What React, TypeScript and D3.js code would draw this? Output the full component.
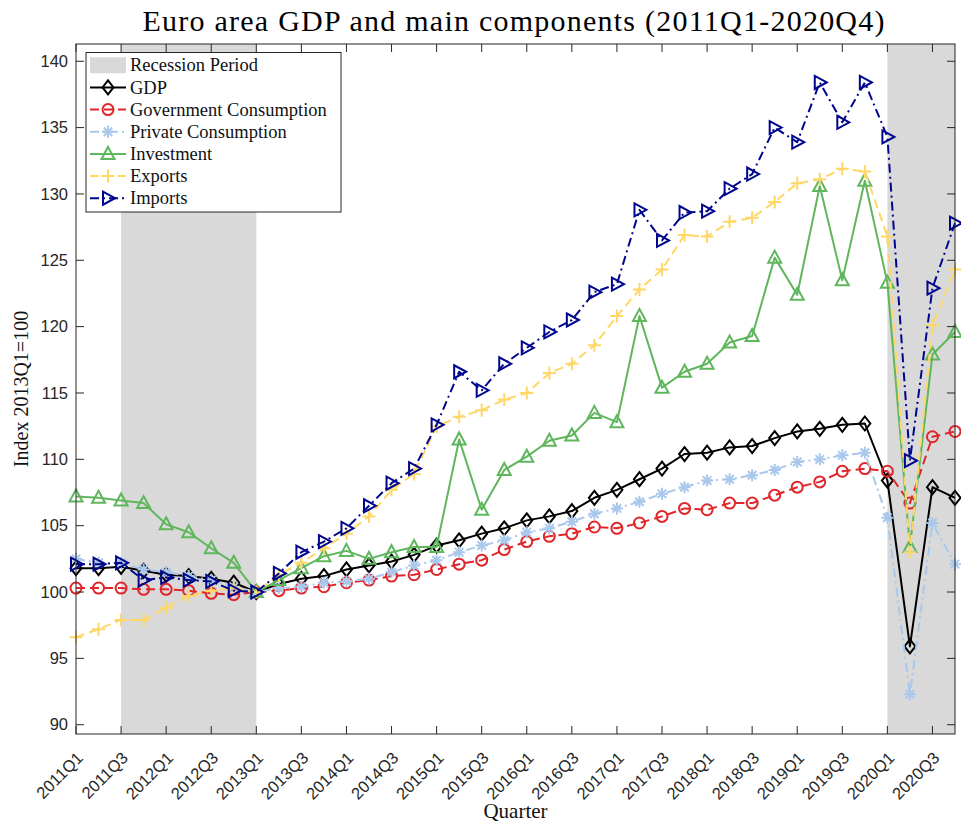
import React, { useEffect, useRef } from "react";
import * as d3 from "d3";

const quarters = [
  "2011Q1", "2011Q2", "2011Q3", "2011Q4", "2012Q1", "2012Q2", "2012Q3", "2012Q4",
  "2013Q1", "2013Q2", "2013Q3", "2013Q4", "2014Q1", "2014Q2", "2014Q3", "2014Q4",
  "2015Q1", "2015Q2", "2015Q3", "2015Q4", "2016Q1", "2016Q2", "2016Q3", "2016Q4",
  "2017Q1", "2017Q2", "2017Q3", "2017Q4", "2018Q1", "2018Q2", "2018Q3", "2018Q4",
  "2019Q1", "2019Q2", "2019Q3", "2019Q4", "2020Q1", "2020Q2", "2020Q3", "2020Q4",
];

const xTickLabels = [
  "2011Q1", "2011Q3", "2012Q1", "2012Q3", "2013Q1", "2013Q3", "2014Q1", "2014Q3",
  "2015Q1", "2015Q3", "2016Q1", "2016Q3", "2017Q1", "2017Q3", "2018Q1", "2018Q3",
  "2019Q1", "2019Q3", "2020Q1", "2020Q3",
];

const yTicks = [90, 95, 100, 105, 110, 115, 120, 125, 130, 135, 140];

const recessions: [string, string][] = [
  ["2011Q3", "2013Q1"],
  ["2020Q1", "2020Q4"],
];

const gdp = [
  101.8, 101.8, 101.9, 101.6, 101.3, 101.2, 101.0, 100.7, 100.0, 100.6,
  101.0, 101.2, 101.7, 102.0, 102.3, 102.8, 103.5, 103.9, 104.4, 104.8,
  105.4, 105.7, 106.1, 107.1, 107.7, 108.5, 109.3, 110.4, 110.5, 110.9,
  111.0, 111.6, 112.1, 112.3, 112.6, 112.7, 108.4, 95.9, 107.9, 107.1,
];

const govConsumption = [
  100.3, 100.3, 100.3, 100.2, 100.2, 100.1, 99.9, 99.8, 100.0, 100.1,
  100.3, 100.4, 100.7, 100.9, 101.2, 101.3, 101.7, 102.1, 102.4, 103.2,
  103.8, 104.2, 104.4, 104.9, 104.8, 105.2, 105.7, 106.3, 106.2, 106.7,
  106.7, 107.3, 107.9, 108.3, 109.1, 109.3, 109.1, 106.7, 111.7, 112.1,
];

const privConsumption = [
  102.5, 102.2, 102.2, 101.7, 101.5, 101.2, 100.9, 100.4, 100.0, 100.3,
  100.4, 100.7, 100.8, 101.0, 101.5, 102.0, 102.4, 103.0, 103.5, 103.9,
  104.5, 104.8, 105.3, 105.9, 106.3, 106.8, 107.4, 107.9, 108.4, 108.5,
  108.8, 109.2, 109.8, 110.0, 110.3, 110.5, 105.6, 92.3, 105.2, 102.1,
];

const investment = [
  107.2, 107.1, 106.9, 106.7, 105.1, 104.5, 103.3, 102.2, 100.0, 100.9,
  101.8, 102.7, 103.1, 102.5, 103.0, 103.4, 103.4, 111.5, 106.2, 109.2,
  110.2, 111.4, 111.8, 113.5, 112.8, 120.8, 115.4, 116.6, 117.2, 118.8,
  119.3, 125.2, 122.4, 130.6, 123.5, 131.0, 123.3, 103.4, 117.9, 119.6,
];

const exportsData = [
  96.6, 97.2, 97.9, 97.9, 98.8, 99.7, 100.1, 100.3, 100.0, 101.3,
  102.2, 103.3, 104.4, 105.7, 107.7, 108.9, 112.5, 113.2, 113.7, 114.5,
  115.0, 116.5, 117.2, 118.6, 120.8, 122.8, 124.3, 126.9, 126.8, 127.9,
  128.2, 129.4, 130.8, 131.1, 131.9, 131.7, 126.8, 103.0, 120.1, 124.3,
];

const importsData = [
  102.1, 102.1, 102.2, 100.9, 101.1, 100.9, 100.8, 100.1, 100.0, 101.4,
  103.0, 103.8, 104.8, 106.5, 108.2, 109.3, 112.6, 116.6, 115.2, 117.2,
  118.4, 119.6, 120.5, 122.6, 123.2, 128.8, 126.5, 128.6, 128.7, 130.4,
  131.5, 135.0, 133.9, 138.4, 135.4, 138.4, 134.3, 109.9, 122.9, 127.8,
];

type Marker = "diamond" | "circle" | "asterisk" | "triangleUp" | "plus" | "triangleRight";

const series: { name: string; values: number[]; color: string; dash: string | null; marker: Marker }[] = [
  { name: "GDP", values: gdp, color: "#000000", dash: null, marker: "diamond" },
  { name: "Government Consumption", values: govConsumption, color: "#e0262b", dash: "9,5", marker: "circle" },
  { name: "Private Consumption", values: privConsumption, color: "#a9c8ec", dash: "9,4,2,4", marker: "asterisk" },
  { name: "Investment", values: investment, color: "#5fb65c", dash: null, marker: "triangleUp" },
  { name: "Exports", values: exportsData, color: "#ffd766", dash: "9,5", marker: "plus" },
  { name: "Imports", values: importsData, color: "#00068c", dash: "9,4,2,4", marker: "triangleRight" },
];

function markerPath(m: Marker): string {
  switch (m) {
    case "diamond":
      return "M0,-7L5.5,0L0,7L-5.5,0Z";
    case "circle":
      return "M5.5,0A5.5,5.5 0 1,1 -5.5,0A5.5,5.5 0 1,1 5.5,0Z";
    case "asterisk": {
      const r = 6, d = r * Math.SQRT1_2;
      return `M${-r},0H${r}M0,${-r}V${r}M${-d},${-d}L${d},${d}M${-d},${d}L${d},${-d}`;
    }
    case "triangleUp":
      return "M0,-7L6.5,5L-6.5,5Z";
    case "plus":
      return "M-6.5,0H6.5M0,-6.5V6.5";
    case "triangleRight":
      return "M7,0L-5,-6.5L-5,6.5Z";
  }
}

export default function App() {
  const svgRef = useRef<SVGSVGElement>(null);

  useEffect(() => {
    const width = 961;
    const height = 832;
    const left = 76, right = 955, top = 44, bottom = 734;
    const axisColor = "#262626";

    const svg = d3.select(svgRef.current).attr("width", width).attr("height", height);
    svg.selectAll("*").remove();

    const x = d3.scalePoint<string>().domain(quarters).range([left, right]);
    const y = d3.scaleLinear().domain([89.3, 141.3]).range([bottom, top]);

    // white plot background
    svg.append("rect").attr("x", left).attr("y", top)
      .attr("width", right - left).attr("height", bottom - top).attr("fill", "#fff");

    // recession shading
    svg.append("g").selectAll("rect").data(recessions).join("rect")
      .attr("x", (d) => x(d[0])!)
      .attr("y", top)
      .attr("width", (d) => x(d[1])! - x(d[0])!)
      .attr("height", bottom - top)
      .attr("fill", "#d9d9d9");

    // lines + markers
    series.forEach((s) => {
      const line = d3.line<number>()
        .x((_, i) => x(quarters[i])!)
        .y((v) => y(v));
      svg.append("path")
        .datum(s.values)
        .attr("fill", "none")
        .attr("stroke", s.color)
        .attr("stroke-width", 2)
        .attr("stroke-dasharray", s.dash)
        .attr("stroke-linejoin", "round")
        .attr("d", line);
      svg.append("g").selectAll("path").data(s.values).join("path")
        .attr("transform", (v, i) => `translate(${x(quarters[i])},${y(v)})`)
        .attr("d", markerPath(s.marker))
        .attr("fill", "none")
        .attr("stroke", s.color)
        .attr("stroke-width", 2)
        .attr("stroke-linejoin", "miter");
    });

    // axes box
    svg.append("rect").attr("x", left).attr("y", top)
      .attr("width", right - left).attr("height", bottom - top)
      .attr("fill", "none").attr("stroke", axisColor).attr("stroke-width", 1);

    const tickLen = 8;
    const ticks = svg.append("g").attr("stroke", axisColor).attr("stroke-width", 1);
    xTickLabels.forEach((q) => {
      const xv = x(q)!;
      ticks.append("line").attr("x1", xv).attr("x2", xv).attr("y1", bottom).attr("y2", bottom - tickLen);
      ticks.append("line").attr("x1", xv).attr("x2", xv).attr("y1", top).attr("y2", top + tickLen);
    });
    yTicks.forEach((t) => {
      const yv = y(t);
      ticks.append("line").attr("x1", left).attr("x2", left + tickLen).attr("y1", yv).attr("y2", yv);
      ticks.append("line").attr("x1", right).attr("x2", right - tickLen).attr("y1", yv).attr("y2", yv);
    });

    // tick labels
    svg.append("g").selectAll("text").data(yTicks).join("text")
      .attr("x", left - 8)
      .attr("y", (d) => y(d))
      .attr("dy", "0.35em")
      .attr("text-anchor", "end")
      .style("font-family", "'Liberation Sans', Arial, sans-serif")
      .style("font-size", "16.5px")
      .attr("fill", axisColor)
      .text((d) => d);

    svg.append("g").selectAll("text").data(xTickLabels).join("text")
      .attr("transform", (d) => `translate(${x(d)! + 8},${bottom + 25}) rotate(-45)`)
      .attr("text-anchor", "end")
      .style("font-family", "'Liberation Sans', Arial, sans-serif")
      .style("font-size", "16.5px")
      .attr("fill", axisColor)
      .text((d) => d);

    const serif = "'Liberation Serif', 'Times New Roman', serif";

    // title
    svg.append("text")
      .attr("x", (left + right) / 2 - 2)
      .attr("y", 31)
      .attr("text-anchor", "middle")
      .style("font-family", serif)
      .style("font-size", "30px")
      .attr("textLength", 742)
      .attr("lengthAdjust", "spacing")
      .attr("fill", "#000")
      .text("Euro area GDP and main components (2011Q1-2020Q4)");

    // axis labels
    svg.append("text")
      .attr("x", (left + right) / 2)
      .attr("y", 818)
      .attr("text-anchor", "middle")
      .style("font-family", serif)
      .style("font-size", "21px")
      .attr("fill", "#111")
      .text("Quarter");

    svg.append("text")
      .attr("transform", `translate(28,${(top + bottom) / 2}) rotate(-90)`)
      .attr("text-anchor", "middle")
      .style("font-family", serif)
      .style("font-size", "20px")
      .attr("fill", "#111")
      .text("Index 2013Q1=100");

    // legend
    const lg = svg.append("g");
    lg.append("rect").attr("x", 86).attr("y", 52.5).attr("width", 255).attr("height", 159.5)
      .attr("fill", "#fff").attr("stroke", axisColor).attr("stroke-width", 1);
    const rowH = 22.15;
    const row0 = 65.3;
    lg.append("rect").attr("x", 90).attr("y", row0 - 8).attr("width", 36).attr("height", 16)
      .attr("fill", "#d9d9d9");
    const labels = ["Recession Period", ...series.map((s) => s.name)];
    labels.forEach((lab, i) => {
      lg.append("text")
        .attr("x", 130)
        .attr("y", row0 + i * rowH)
        .attr("dy", "0.33em")
        .style("font-family", serif)
        .style("font-size", "18.5px")
        .attr("fill", "#111")
        .text(lab);
    });
    series.forEach((s, i) => {
      const yy = row0 + (i + 1) * rowH;
      lg.append("line").attr("x1", 90).attr("x2", 126).attr("y1", yy).attr("y2", yy)
        .attr("stroke", s.color).attr("stroke-width", 2).attr("stroke-dasharray", s.dash);
      lg.append("path").attr("transform", `translate(108,${yy})`)
        .attr("d", markerPath(s.marker)).attr("fill", "none")
        .attr("stroke", s.color).attr("stroke-width", 2);
    });
  }, []);

  return <svg ref={svgRef} style={{ position: "absolute", left: 0, top: 0 }} />;
}
